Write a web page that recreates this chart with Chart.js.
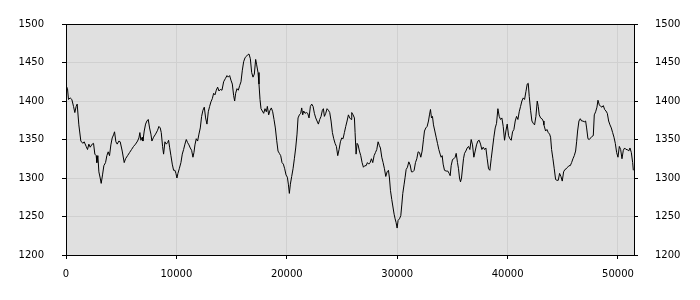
<!DOCTYPE html>
<html lang="en">
<head>
  <meta charset="UTF-8">
  <title>Series chart</title>
  <style>
    body {
      margin: 0;
      background: #ffffff;
    }
    canvas {
      display: block;
    }
  </style>
</head>
<body>

  <canvas id="chartCanvas" width="700" height="300"></canvas>

  <script src="https://cdn.jsdelivr.net/npm/chart.js"></script>
  <script>
    // Sample positions (x) and values (y)
    const xs = [
      0, 136, 226, 377, 529, 680, 800, 921, 1012, 1163, 1344, 1526, 1647, 1828, 1949, 2070, 2191, 2372, 2493, 2614,
      2735, 2795, 2886, 2977, 3097, 3188, 3309, 3430, 3581, 3702, 3822, 3943, 4064, 4185, 4306, 4397, 4518, 4638, 4790, 4910,
      5092, 5273, 5394, 5575, 5757, 5938, 6119, 6301, 6482, 6603, 6693, 6784, 6905, 6965, 7086, 7207, 7328, 7449, 7570, 7691,
      7781, 7932, 8114, 8295, 8416, 8537,
      8628, 8749, 8840, 8961, 9081, 9202, 9293, 9384, 9504, 9625, 9746, 9867, 9958, 10048, 10139, 10260, 10411, 10532, 10653, 10774,
      10895, 11015, 11136, 11257, 11378, 11499, 11590, 11680, 11801, 11922, 12043, 12164, 12285, 12406, 12526, 12647, 12768, 12889, 13010, 13131,
      13252, 13373, 13494, 13614, 13735, 13856, 13977, 14128, 14279, 14430, 14581, 14702, 14823, 14944, 15065, 15186, 15276, 15367, 15488, 15609,
      15730, 15851, 15972, 16092, 16213, 16334, 16455, 16576, 16697, 16818, 16939, 17060, 17180,
      17271, 17392, 17482, 17573, 17664, 17784, 17905, 18026, 18147, 18238, 18359, 18479, 18600, 18721, 18842, 18963, 19084, 19205, 19326, 19447,
      19567, 19688, 19809, 19930, 20051, 20142, 20232, 20323, 20444, 20565, 20686, 20806, 20927, 21018, 21139, 21260, 21350, 21441, 21532, 21653,
      21773, 21894, 22015, 22136, 22257, 22378, 22499, 22620, 22740, 22861, 22982, 23103, 23224, 23315, 23405, 23526, 23647, 23768, 23889, 24010,
      24131, 24251, 24372, 24493, 24614, 24735, 24856, 24977, 25098, 25218, 25339, 25460, 25581, 25702, 25823,
      25883, 26004, 26125, 26185, 26276, 26367, 26457, 26578, 26699, 26820, 26941, 27062, 27183, 27303, 27424, 27545, 27666, 27787, 27908, 28029,
      28150, 28270, 28391, 28482, 28603, 28724, 28845, 28965, 29086, 29207, 29298, 29389, 29509, 29630, 29721, 29812, 29902, 29993, 30084, 30205,
      30325, 30416, 30507, 30628, 30718, 30809, 30930, 31051, 31172, 31292, 31413, 31534, 31655, 31776, 31897, 32018, 32139, 32259, 32380, 32471,
      32592, 32713, 32834, 32924, 33015, 33106, 33196, 33287, 33408, 33529, 33650, 33770, 33891, 33982, 34073, 34163, 34284, 34436, 34587,
      34708, 34799, 34889, 35010, 35131, 35252, 35343, 35463, 35554, 35645, 35735, 35826, 35917, 36007, 36098, 36219, 36340, 36461, 36582, 36702,
      36823, 36944, 37065, 37186, 37307, 37428, 37549, 37669, 37790, 37911, 38032, 38153, 38274, 38395, 38516, 38636, 38757, 38878, 38999, 39120,
      39241, 39362, 39483, 39603, 39724, 39845, 39966, 40087, 40208, 40329, 40450, 40571, 40691, 40812, 40933, 41054, 41175, 41296, 41417, 41538,
      41658, 41779, 41870, 41961, 42082, 42203, 42323, 42444, 42565, 42686, 42777, 42867, 42988, 43109, 43230,
      43290, 43441, 43562, 43683, 43804, 43894, 43985, 44106, 44227, 44348, 44469, 44589, 44710, 44831, 44952, 45073, 45194, 45315, 45436, 45557,
      45677, 45798, 45919, 46040, 46161, 46252, 46342, 46463, 46584, 46705, 46826, 46947, 47068, 47158, 47279, 47400, 47521, 47642, 47763, 47853,
      47974, 48095, 48186, 48307, 48427, 48548, 48669, 48790, 48911, 49032, 49153, 49274, 49394, 49515, 49636, 49757, 49878, 49999, 50120, 50241,
      50361, 50482, 50603, 50724, 50845, 50966, 51087, 51208, 51329, 51389
    ];

    const ys = [
      1420, 1416, 1402, 1404, 1402, 1393, 1385, 1393, 1396, 1369, 1348, 1345, 1347, 1341, 1337, 1344, 1340, 1344, 1345, 1331,
      1329, 1320, 1329, 1308, 1300, 1293, 1304, 1316, 1320, 1329, 1334, 1329, 1343, 1352, 1356, 1360, 1347, 1344, 1348, 1347,
      1335, 1320, 1325, 1329, 1333, 1337, 1341, 1344, 1348, 1352, 1359, 1349, 1353, 1348, 1361, 1370, 1374, 1376, 1365, 1357,
      1348, 1353, 1357, 1362, 1367, 1365,
      1359, 1341, 1331, 1347, 1344, 1346, 1349, 1340, 1329, 1318, 1310, 1310, 1306, 1300, 1306, 1312, 1320, 1331, 1337, 1344,
      1350, 1346, 1343, 1339, 1336, 1327, 1333, 1343, 1351, 1348, 1357, 1365, 1380, 1388, 1392, 1378, 1370, 1386, 1393, 1399,
      1403, 1410, 1408, 1414, 1418, 1413, 1415, 1414, 1425, 1429, 1433, 1431, 1433, 1427, 1422, 1407, 1400, 1410, 1416, 1414,
      1420, 1425, 1440, 1451, 1456, 1458, 1460, 1461, 1455, 1437, 1431, 1435, 1454,
      1447, 1437, 1422, 1402, 1390, 1387, 1384, 1390, 1386, 1393, 1382, 1388, 1391, 1386, 1376, 1365, 1349, 1335, 1332, 1329,
      1320, 1318, 1312, 1304, 1301, 1292, 1280, 1292, 1302, 1312, 1325, 1339, 1357, 1378, 1382, 1384, 1391, 1382, 1387, 1384,
      1385, 1384, 1378, 1393, 1396, 1393, 1384, 1378, 1374, 1370, 1376, 1380, 1388, 1390, 1380, 1384, 1390, 1388, 1385, 1374,
      1359, 1351, 1345, 1341, 1329, 1337, 1347, 1352, 1351, 1359, 1367, 1374, 1382, 1378, 1376,
      1385, 1382, 1378, 1359, 1331, 1345, 1343, 1335, 1329, 1320, 1314, 1316, 1316, 1320, 1318, 1320, 1325, 1320, 1329, 1333,
      1337, 1347, 1342, 1339, 1327, 1320, 1312, 1302, 1308, 1310, 1300, 1284, 1272, 1261, 1253, 1247, 1242, 1235, 1245, 1247,
      1251, 1265, 1280, 1292, 1301, 1311, 1314, 1321, 1317, 1308, 1308, 1310, 1320, 1325, 1334, 1333, 1327, 1335, 1350, 1361,
      1365, 1367, 1374, 1382, 1389, 1378, 1380, 1369, 1361, 1353, 1345, 1337, 1331, 1327, 1329, 1318, 1310, 1309, 1309,
      1306, 1303, 1316, 1324, 1325, 1327, 1332, 1320, 1312, 1300, 1295, 1300, 1313, 1325, 1332, 1335, 1339, 1341, 1337, 1350,
      1343, 1327, 1335, 1343, 1348, 1349, 1344, 1337, 1340, 1337, 1339, 1325, 1312, 1310, 1325, 1339, 1353, 1365, 1371, 1390,
      1380, 1376, 1378, 1367, 1349, 1361, 1370, 1355, 1351, 1349, 1360, 1363, 1374, 1380, 1376, 1386, 1393, 1400, 1404, 1402,
      1412, 1422, 1423, 1406, 1388, 1374, 1371, 1369, 1380, 1400, 1393, 1382, 1378, 1377, 1374,
      1369, 1361, 1363, 1359, 1357, 1353, 1337, 1325, 1312, 1298, 1297, 1297, 1306, 1302, 1296, 1308, 1311, 1312, 1314, 1316,
      1316, 1320, 1325, 1329, 1335, 1347, 1361, 1374, 1377, 1374, 1374, 1373, 1374, 1365, 1351, 1350, 1352, 1354, 1355, 1382,
      1386, 1392, 1401, 1395, 1393, 1392, 1394, 1389, 1387, 1384, 1374, 1369, 1365, 1359, 1353, 1345, 1333, 1327, 1341, 1337,
      1325, 1336, 1339, 1337, 1337, 1335, 1339, 1333, 1320, 1310
    ];

    // Axis ranges and tick labels
    const xMin = 0;
    const xMax = 51450;
    const xTicks = [0, 10000, 20000, 30000, 40000, 50000];
    const yMin = 1200;
    const yMax = 1500;
    const yTicks = [1200, 1250, 1300, 1350, 1400, 1450, 1500];

    const points = xs.map((x, i) => ({ x: x, y: ys[i] }));

    const tickFont = { family: 'DejaVu Sans', size: 10 };
    const gridColor = '#d0d0d0';

    function setTicks(list) {
      return function (scale) {
        scale.ticks = list.map(v => ({ value: v }));
      };
    }

    function plainLabel(value) {
      return String(value);
    }

    // Grey plot background and black frame around the chart area
    const plotFrame = {
      id: 'plotFrame',
      beforeDraw(chart) {
        const { ctx, chartArea: a } = chart;
        ctx.save();
        ctx.fillStyle = '#e0e0e0';
        ctx.fillRect(a.left, a.top, a.right - a.left, a.bottom - a.top);
        ctx.restore();
      },
      afterDraw(chart) {
        const { ctx, chartArea: a } = chart;
        ctx.save();
        ctx.strokeStyle = '#000000';
        ctx.lineWidth = 1;
        ctx.strokeRect(Math.round(a.left) + 0.5, Math.round(a.top) + 0.5,
          Math.round(a.right - a.left), Math.round(a.bottom - a.top));
        ctx.restore();
      }
    };

    const ctx = document.getElementById('chartCanvas').getContext('2d');

    new Chart(ctx, {
      type: 'line',
      data: {
        datasets: [{
          data: points,
          borderColor: '#000000',
          borderWidth: 1,
          pointRadius: 0,
          tension: 0,
          fill: false
        }]
      },
      options: {
        responsive: false,
        animation: false,
        layout: { padding: { top: 10, left: 0, right: 0, bottom: 0 } },
        plugins: {
          legend: { display: false },
          tooltip: { enabled: false }
        },
        scales: {
          x: {
            type: 'linear',
            min: xMin,
            max: xMax,
            afterBuildTicks: setTicks(xTicks),
            afterFit(scale) { scale.height = 45; },
            grid: { color: gridColor, tickColor: '#000000', tickLength: 4 },
            border: { color: '#000000', width: 1 },
            ticks: {
              maxRotation: 0,
              autoSkip: false,
              padding: 9,
              color: '#000000',
              font: tickFont,
              callback: plainLabel
            }
          },
          y: {
            position: 'left',
            min: yMin,
            max: yMax,
            afterBuildTicks: setTicks(yTicks),
            afterFit(scale) { scale.width = 66; },
            grid: { color: gridColor, tickColor: '#000000', tickLength: 4 },
            border: { color: '#000000', width: 1 },
            ticks: { padding: 18, color: '#000000', font: tickFont, callback: plainLabel }
          },
          y2: {
            position: 'right',
            min: yMin,
            max: yMax,
            afterBuildTicks: setTicks(yTicks),
            afterFit(scale) { scale.width = 66; },
            grid: { drawOnChartArea: false, tickColor: '#000000', tickLength: 4 },
            border: { color: '#000000', width: 1 },
            ticks: { padding: 17, color: '#000000', font: tickFont, callback: plainLabel }
          }
        }
      },
      plugins: [plotFrame]
    });
  </script>

</body>
</html>
